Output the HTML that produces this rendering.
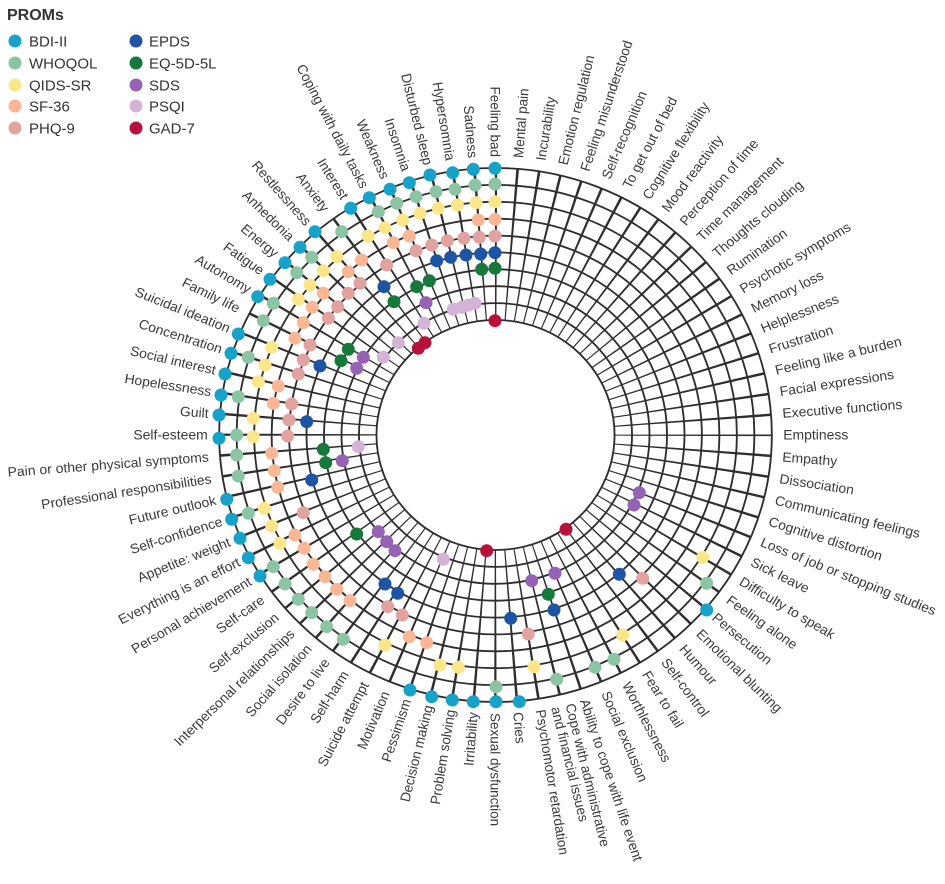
<!DOCTYPE html>
<html><head><meta charset="utf-8"><style>
html,body{margin:0;padding:0;background:#fff;}
svg{display:block;font-family:"Liberation Sans",sans-serif;}
.lb text{font-size:13.5px;fill:#3a3a3a;}
.lg{font-size:15px;fill:#333;}
</style></head><body>
<svg width="945" height="884" viewBox="0 0 945 884" xmlns="http://www.w3.org/2000/svg">
<text x="7" y="20" style="font-size:16px;font-weight:bold;fill:#333">PROMs</text>
<g class="lg">
<circle cx="15" cy="41" r="6.5" fill="#17a2c9"/><text x="29" y="46.5">BDI-II</text>
<circle cx="15" cy="63" r="6.5" fill="#8cc5a3"/><text x="29" y="68.5">WHOQOL</text>
<circle cx="15" cy="85" r="6.5" fill="#fbe68a"/><text x="29" y="90.5">QIDS-SR</text>
<circle cx="15" cy="106" r="6.5" fill="#f9b796"/><text x="29" y="111.5">SF-36</text>
<circle cx="15" cy="128" r="6.5" fill="#e2a3a0"/><text x="29" y="133.5">PHQ-9</text>
<circle cx="136" cy="41" r="6.5" fill="#1d55a4"/><text x="149" y="46.5">EPDS</text>
<circle cx="136" cy="63" r="6.5" fill="#16783b"/><text x="149" y="68.5">EQ-5D-5L</text>
<circle cx="136" cy="85" r="6.5" fill="#9562b5"/><text x="149" y="90.5">SDS</text>
<circle cx="136" cy="106" r="6.5" fill="#d4b3d6"/><text x="149" y="111.5">PSQI</text>
<circle cx="136" cy="128" r="6.5" fill="#b7103b"/><text x="149" y="133.5">GAD-7</text>
</g>
<g transform="translate(495.5,435) scale(1.035,1)">
<g fill="none" stroke="#2e2e2e" stroke-width="1.8">
<circle r="267"/><circle r="250.1"/><circle r="233.2"/><circle r="216.3"/><circle r="199.4"/><circle r="182.6"/><circle r="165.7"/><circle r="148.8"/><circle r="131.9"/><circle r="115"/>
</g>
<circle r="191" fill="none" stroke="#2e2e2e" stroke-width="152" stroke-dasharray="1.8 13.201" stroke-dashoffset="0.9"/>
<g class="lb">
<text transform="rotate(-85.5) translate(278,0)" dy="0.35em">Mental pain</text>
<text transform="rotate(-81) translate(278,0)" dy="0.35em">Incurability</text>
<text transform="rotate(-76.5) translate(278,0)" dy="0.35em">Emotion regulation</text>
<text transform="rotate(-72) translate(278,0)" dy="0.35em">Feeling misunderstood</text>
<text transform="rotate(-67.5) translate(278,0)" dy="0.35em">Self-recognition</text>
<text transform="rotate(-63) translate(278,0)" dy="0.35em">To get out of bed</text>
<text transform="rotate(-58.5) translate(278,0)" dy="0.35em">Cognitive flexibility</text>
<text transform="rotate(-54) translate(278,0)" dy="0.35em">Mood reactivity</text>
<text transform="rotate(-49.5) translate(278,0)" dy="0.35em">Perception of time</text>
<text transform="rotate(-45) translate(278,0)" dy="0.35em">Time management</text>
<text transform="rotate(-40.5) translate(278,0)" dy="0.35em">Thoughts clouding</text>
<text transform="rotate(-36) translate(278,0)" dy="0.35em">Rumination</text>
<text transform="rotate(-31.5) translate(278,0)" dy="0.35em">Psychotic symptoms</text>
<text transform="rotate(-27) translate(278,0)" dy="0.35em">Memory loss</text>
<text transform="rotate(-22.5) translate(278,0)" dy="0.35em">Helplessness</text>
<text transform="rotate(-18) translate(278,0)" dy="0.35em">Frustration</text>
<text transform="rotate(-13.5) translate(278,0)" dy="0.35em">Feeling like a burden</text>
<text transform="rotate(-9) translate(278,0)" dy="0.35em">Facial expressions</text>
<text transform="rotate(-4.5) translate(278,0)" dy="0.35em">Executive functions</text>
<text transform="rotate(0) translate(278,0)" dy="0.35em">Emptiness</text>
<text transform="rotate(4.5) translate(278,0)" dy="0.35em">Empathy</text>
<text transform="rotate(9) translate(278,0)" dy="0.35em">Dissociation</text>
<text transform="rotate(13.5) translate(278,0)" dy="0.35em">Communicating feelings</text>
<text transform="rotate(18) translate(278,0)" dy="0.35em">Cognitive distortion</text>
<text transform="rotate(22.5) translate(278,0)" dy="0.35em">Loss of job or stopping studies</text>
<text transform="rotate(27) translate(278,0)" dy="0.35em">Sick leave</text>
<text transform="rotate(31.5) translate(278,0)" dy="0.35em">Difficulty to speak</text>
<text transform="rotate(36) translate(278,0)" dy="0.35em">Feeling alone</text>
<text transform="rotate(40.5) translate(278,0)" dy="0.35em">Persecution</text>
<text transform="rotate(45) translate(278,0)" dy="0.35em">Emotional blunting</text>
<text transform="rotate(49.5) translate(278,0)" dy="0.35em">Humour</text>
<text transform="rotate(54) translate(278,0)" dy="0.35em">Self-control</text>
<text transform="rotate(58.5) translate(278,0)" dy="0.35em">Fear to fail</text>
<text transform="rotate(63) translate(278,0)" dy="0.35em">Worthlessness</text>
<text transform="rotate(67.5) translate(278,0)" dy="0.35em">Social exclusion</text>
<text transform="rotate(72) translate(278,0)" dy="0.35em">Ability to cope with life event</text>
<text transform="rotate(76.5) translate(278,0)"><tspan x="0" dy="-0.2em">Cope with administrative</tspan><tspan x="0" dy="1.05em">and financial issues</tspan></text>
<text transform="rotate(81) translate(278,0)" dy="0.35em">Psychomotor retardation</text>
<text transform="rotate(85.5) translate(278,0)" dy="0.35em">Cries</text>
<text transform="rotate(90) translate(278,0)" dy="0.35em">Sexual dysfunction</text>
<g text-anchor="end">
<text transform="rotate(94.5) translate(278,0) rotate(180)" dy="0.35em">Irritability</text>
<text transform="rotate(99) translate(278,0) rotate(180)" dy="0.35em">Problem solving</text>
<text transform="rotate(103.5) translate(278,0) rotate(180)" dy="0.35em">Decision making</text>
<text transform="rotate(108) translate(278,0) rotate(180)" dy="0.35em">Pessimism</text>
<text transform="rotate(112.5) translate(278,0) rotate(180)" dy="0.35em">Motivation</text>
<text transform="rotate(117) translate(278,0) rotate(180)" dy="0.35em">Suicide attempt</text>
<text transform="rotate(121.5) translate(278,0) rotate(180)" dy="0.35em">Self-harm</text>
<text transform="rotate(126) translate(278,0) rotate(180)" dy="0.35em">Desire to live</text>
<text transform="rotate(130.5) translate(278,0) rotate(180)" dy="0.35em">Social isolation</text>
<text transform="rotate(135) translate(278,0) rotate(180)" dy="0.35em">Interpersonal relationships</text>
<text transform="rotate(139.5) translate(278,0) rotate(180)" dy="0.35em">Self-exclusion</text>
<text transform="rotate(144) translate(278,0) rotate(180)" dy="0.35em">Self-care</text>
<text transform="rotate(148.5) translate(278,0) rotate(180)" dy="0.35em">Personal achievement</text>
<text transform="rotate(153) translate(278,0) rotate(180)" dy="0.35em">Everything is an effort</text>
<text transform="rotate(157.5) translate(278,0) rotate(180)" dy="0.35em">Appetite: weight</text>
<text transform="rotate(162) translate(278,0) rotate(180)" dy="0.35em">Self-confidence</text>
<text transform="rotate(166.5) translate(278,0) rotate(180)" dy="0.35em">Future outlook</text>
<text transform="rotate(171) translate(278,0) rotate(180)" dy="0.35em">Professional responsibilities</text>
<text transform="rotate(175.5) translate(278,0) rotate(180)" dy="0.35em">Pain or other physical symptoms</text>
<text transform="rotate(180) translate(278,0) rotate(180)" dy="0.35em">Self-esteem</text>
<text transform="rotate(184.5) translate(278,0) rotate(180)" dy="0.35em">Guilt</text>
<text transform="rotate(189) translate(278,0) rotate(180)" dy="0.35em">Hopelessness</text>
<text transform="rotate(193.5) translate(278,0) rotate(180)" dy="0.35em">Social interest</text>
<text transform="rotate(198) translate(278,0) rotate(180)" dy="0.35em">Concentration</text>
<text transform="rotate(202.5) translate(278,0) rotate(180)" dy="0.35em">Suicidal ideation</text>
<text transform="rotate(207) translate(278,0) rotate(180)" dy="0.35em">Family life</text>
<text transform="rotate(211.5) translate(278,0) rotate(180)" dy="0.35em">Autonomy</text>
<text transform="rotate(216) translate(278,0) rotate(180)" dy="0.35em">Fatigue</text>
<text transform="rotate(220.5) translate(278,0) rotate(180)" dy="0.35em">Energy</text>
<text transform="rotate(225) translate(278,0) rotate(180)" dy="0.35em">Anhedonia</text>
<text transform="rotate(229.5) translate(278,0) rotate(180)" dy="0.35em">Restlessness</text>
<text transform="rotate(234) translate(278,0) rotate(180)" dy="0.35em">Anxiety</text>
<text transform="rotate(238.5) translate(278,0) rotate(180)" dy="0.35em">Interest</text>
<text transform="rotate(243) translate(278,0) rotate(180)" dy="0.35em">Coping with daily tasks</text>
<text transform="rotate(247.5) translate(278,0) rotate(180)" dy="0.35em">Weakness</text>
<text transform="rotate(252) translate(278,0) rotate(180)" dy="0.35em">Insomnia</text>
<text transform="rotate(256.5) translate(278,0) rotate(180)" dy="0.35em">Disturbed sleep</text>
<text transform="rotate(261) translate(278,0) rotate(180)" dy="0.35em">Hypersomnia</text>
<text transform="rotate(265.5) translate(278,0) rotate(180)" dy="0.35em">Sadness</text>
<text transform="rotate(270) translate(278,0) rotate(180)" dy="0.35em">Feeling bad</text>
</g>
</g>
</g>
<g fill="#17a2c9">
<circle cx="495" cy="168.3" r="6.5"/><circle cx="473.3" cy="169.3" r="6.5"/><circle cx="452.7" cy="172.7" r="6.5"/><circle cx="430" cy="175" r="6.5"/><circle cx="409.3" cy="182.7" r="6.5"/><circle cx="390" cy="189.3" r="6.5"/><circle cx="369.3" cy="197.7" r="6.5"/><circle cx="350.7" cy="208.3" r="6.5"/><circle cx="315" cy="231.7" r="6.5"/><circle cx="300" cy="247.3" r="6.5"/><circle cx="285" cy="262.7" r="6.5"/><circle cx="270" cy="279.3" r="6.5"/><circle cx="257.7" cy="296.7" r="6.5"/><circle cx="238.3" cy="334" r="6.5"/><circle cx="231" cy="353.3" r="6.5"/><circle cx="225" cy="374" r="6.5"/><circle cx="221" cy="395" r="6.5"/><circle cx="219" cy="415" r="6.5"/><circle cx="219" cy="438.3" r="6.5"/><circle cx="226.7" cy="499.3" r="6.5"/><circle cx="231.7" cy="519.3" r="6.5"/><circle cx="240" cy="538.3" r="6.5"/><circle cx="248.3" cy="557.7" r="6.5"/><circle cx="260" cy="576" r="6.5"/><circle cx="410" cy="690" r="6.5"/><circle cx="431.7" cy="696.7" r="6.5"/><circle cx="452.3" cy="700" r="6.5"/><circle cx="473.3" cy="701.7" r="6.5"/><circle cx="496" cy="701.7" r="6.5"/><circle cx="519.3" cy="701.7" r="6.5"/><circle cx="706.7" cy="610" r="6.5"/>
</g>
<g fill="#8cc5a3">
<circle cx="495" cy="184" r="6.5"/><circle cx="475" cy="185" r="6.5"/><circle cx="455" cy="189.3" r="6.5"/><circle cx="436" cy="191.7" r="6.5"/><circle cx="416" cy="196.7" r="6.5"/><circle cx="396.7" cy="203.3" r="6.5"/><circle cx="378.3" cy="211.7" r="6.5"/><circle cx="341.7" cy="231.7" r="6.5"/><circle cx="311.7" cy="257.3" r="6.5"/><circle cx="296.7" cy="272.7" r="6.5"/><circle cx="273.3" cy="303.3" r="6.5"/><circle cx="263.3" cy="320.7" r="6.5"/><circle cx="248.3" cy="357.3" r="6.5"/><circle cx="238.3" cy="396.7" r="6.5"/><circle cx="236.7" cy="435" r="6.5"/><circle cx="236.7" cy="455" r="6.5"/><circle cx="238.3" cy="476" r="6.5"/><circle cx="248.3" cy="513.3" r="6.5"/><circle cx="273.3" cy="566.7" r="6.5"/><circle cx="285" cy="584" r="6.5"/><circle cx="298.3" cy="599.3" r="6.5"/><circle cx="311.7" cy="612.7" r="6.5"/><circle cx="326.7" cy="626.7" r="6.5"/><circle cx="343.3" cy="639.3" r="6.5"/><circle cx="496" cy="686.7" r="6.5"/><circle cx="556.7" cy="679.3" r="6.5"/><circle cx="595" cy="667.3" r="6.5"/><circle cx="614" cy="659.3" r="6.5"/><circle cx="706.7" cy="583.3" r="6.5"/>
</g>
<g fill="#fbe68a">
<circle cx="495" cy="201.7" r="6.5"/><circle cx="476" cy="202.7" r="6.5"/><circle cx="457.3" cy="205" r="6.5"/><circle cx="438.3" cy="208.3" r="6.5"/><circle cx="420" cy="213.3" r="6.5"/><circle cx="402.7" cy="220" r="6.5"/><circle cx="385" cy="227.7" r="6.5"/><circle cx="368.3" cy="236" r="6.5"/><circle cx="336.7" cy="256.7" r="6.5"/><circle cx="323.3" cy="270.7" r="6.5"/><circle cx="310" cy="285" r="6.5"/><circle cx="298.3" cy="299.3" r="6.5"/><circle cx="271.7" cy="347.3" r="6.5"/><circle cx="265" cy="365" r="6.5"/><circle cx="258.3" cy="381.7" r="6.5"/><circle cx="253.3" cy="418.3" r="6.5"/><circle cx="253.3" cy="436.7" r="6.5"/><circle cx="264.3" cy="508.3" r="6.5"/><circle cx="271.7" cy="526" r="6.5"/><circle cx="280" cy="543.3" r="6.5"/><circle cx="385" cy="645" r="6.5"/><circle cx="440" cy="665" r="6.5"/><circle cx="458.3" cy="667.3" r="6.5"/><circle cx="534" cy="666.7" r="6.5"/><circle cx="622.7" cy="635" r="6.5"/><circle cx="702.7" cy="557.3" r="6.5"/>
</g>
<g fill="#f9b796">
<circle cx="495" cy="219.3" r="6.5"/><circle cx="478.3" cy="220" r="6.5"/><circle cx="409.3" cy="236" r="6.5"/><circle cx="393.3" cy="242.7" r="6.5"/><circle cx="361.7" cy="260" r="6.5"/><circle cx="348.3" cy="271.7" r="6.5"/><circle cx="323.3" cy="293.3" r="6.5"/><circle cx="312.3" cy="307.3" r="6.5"/><circle cx="303.3" cy="322.7" r="6.5"/><circle cx="295" cy="338.3" r="6.5"/><circle cx="278.3" cy="386" r="6.5"/><circle cx="273.3" cy="403.3" r="6.5"/><circle cx="271.7" cy="453.3" r="6.5"/><circle cx="274.3" cy="470.7" r="6.5"/><circle cx="277.7" cy="487.3" r="6.5"/><circle cx="295" cy="535" r="6.5"/><circle cx="304.3" cy="548.3" r="6.5"/><circle cx="313.3" cy="564.3" r="6.5"/><circle cx="325" cy="576.7" r="6.5"/><circle cx="336.7" cy="589.3" r="6.5"/><circle cx="350" cy="600.7" r="6.5"/><circle cx="409.3" cy="636.7" r="6.5"/><circle cx="426.7" cy="642.7" r="6.5"/>
</g>
<g fill="#e2a3a0">
<circle cx="495" cy="236" r="6.5"/><circle cx="479.3" cy="237.3" r="6.5"/><circle cx="464" cy="238.3" r="6.5"/><circle cx="447.3" cy="240.7" r="6.5"/><circle cx="431.7" cy="245" r="6.5"/><circle cx="416" cy="250.7" r="6.5"/><circle cx="386.7" cy="265" r="6.5"/><circle cx="360" cy="283.3" r="6.5"/><circle cx="348.3" cy="293.3" r="6.5"/><circle cx="337.7" cy="306.7" r="6.5"/><circle cx="328.3" cy="318.3" r="6.5"/><circle cx="310" cy="345" r="6.5"/><circle cx="303.3" cy="360" r="6.5"/><circle cx="298.3" cy="374" r="6.5"/><circle cx="291.7" cy="404" r="6.5"/><circle cx="289" cy="420" r="6.5"/><circle cx="287.7" cy="436" r="6.5"/><circle cx="303.3" cy="512.7" r="6.5"/><circle cx="387.7" cy="606.7" r="6.5"/><circle cx="402.3" cy="615" r="6.5"/><circle cx="528.3" cy="634" r="6.5"/><circle cx="642.7" cy="578.3" r="6.5"/>
</g>
<g fill="#1d55a4">
<circle cx="495" cy="252.7" r="6.5"/><circle cx="480.7" cy="254" r="6.5"/><circle cx="466" cy="255" r="6.5"/><circle cx="450.7" cy="257.3" r="6.5"/><circle cx="436.7" cy="260.7" r="6.5"/><circle cx="384" cy="286.7" r="6.5"/><circle cx="320" cy="366" r="6.5"/><circle cx="306.7" cy="421.7" r="6.5"/><circle cx="311.7" cy="480" r="6.5"/><circle cx="385" cy="584" r="6.5"/><circle cx="397.7" cy="593.3" r="6.5"/><circle cx="510.7" cy="618.3" r="6.5"/><circle cx="554" cy="610" r="6.5"/><circle cx="619.3" cy="574.3" r="6.5"/>
</g>
<g fill="#16783b">
<circle cx="495" cy="268.3" r="6.5"/><circle cx="481.7" cy="269.3" r="6.5"/><circle cx="429.3" cy="280.7" r="6.5"/><circle cx="416.7" cy="286.7" r="6.5"/><circle cx="394" cy="301.7" r="6.5"/><circle cx="348.3" cy="349.3" r="6.5"/><circle cx="341" cy="360.7" r="6.5"/><circle cx="323.3" cy="449.3" r="6.5"/><circle cx="325.7" cy="462.7" r="6.5"/><circle cx="356.7" cy="534" r="6.5"/><circle cx="548.3" cy="594.3" r="6.5"/>
</g>
<g fill="#9562b5">
<circle cx="426" cy="302.7" r="6.5"/><circle cx="363.3" cy="357.3" r="6.5"/><circle cx="356.7" cy="368.3" r="6.5"/><circle cx="342.3" cy="460.7" r="6.5"/><circle cx="378.3" cy="531.7" r="6.5"/><circle cx="386.7" cy="541.7" r="6.5"/><circle cx="395" cy="550.7" r="6.5"/><circle cx="531.7" cy="580.7" r="6.5"/><circle cx="555" cy="573.3" r="6.5"/><circle cx="639.3" cy="492.7" r="6.5"/><circle cx="634" cy="505" r="6.5"/>
</g>
<g fill="#d4b3d6">
<circle cx="453.3" cy="309.3" r="6.5"/><circle cx="461.7" cy="307.3" r="6.5"/><circle cx="468.3" cy="305.3" r="6.5"/><circle cx="475" cy="303.3" r="6.5"/><circle cx="424" cy="323.3" r="6.5"/><circle cx="398.3" cy="342.7" r="6.5"/><circle cx="383.3" cy="357.3" r="6.5"/><circle cx="358.3" cy="446.7" r="6.5"/><circle cx="443.3" cy="559.3" r="6.5"/>
</g>
<g fill="#b7103b">
<circle cx="495" cy="320.7" r="6.5"/><circle cx="418.3" cy="348.3" r="6.5"/><circle cx="425" cy="342.7" r="6.5"/><circle cx="486.7" cy="550.7" r="6.5"/><circle cx="566" cy="529.3" r="6.5"/>
</g>
</svg>
</body></html>
